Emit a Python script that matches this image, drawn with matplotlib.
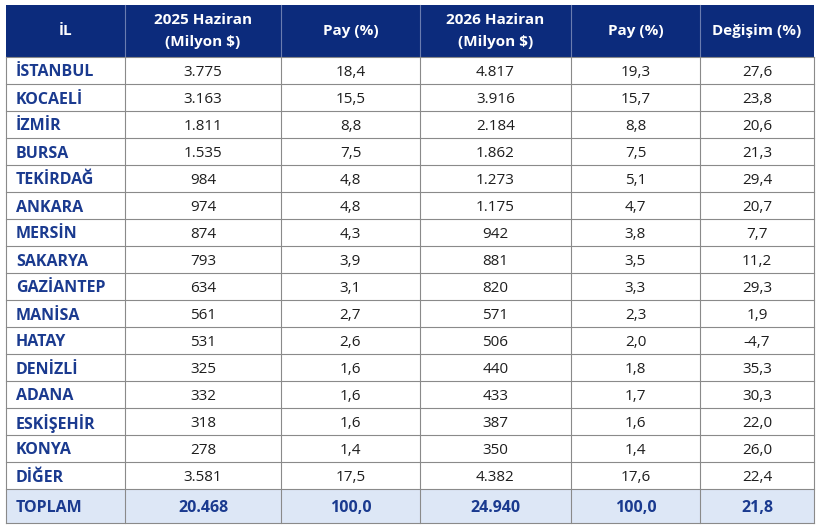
import matplotlib
matplotlib.use("Agg")
from matplotlib import pyplot as plt
from matplotlib.patches import Rectangle

plt.rcParams["font.family"] = ["Open Sans", "DejaVu Sans"]

# table data
header = ["İL", "2025 Haziran\n(Milyon $)", "Pay (%)", "2026 Haziran\n(Milyon $)", "Pay (%)", "Değişim (%)"]
provinces = ["İSTANBUL", "KOCAELİ", "İZMİR", "BURSA", "TEKİRDAĞ", "ANKARA", "MERSİN", "SAKARYA",
             "GAZİANTEP", "MANİSA", "HATAY", "DENİZLİ", "ADANA", "ESKİŞEHİR", "KONYA", "DİĞER"]
export_2025 = [3775, 3163, 1811, 1535, 984, 974, 874, 793, 634, 561, 531, 325, 332, 318, 278, 3581]
share_2025 = [18.4, 15.5, 8.8, 7.5, 4.8, 4.8, 4.3, 3.9, 3.1, 2.7, 2.6, 1.6, 1.6, 1.6, 1.4, 17.5]
export_2026 = [4817, 3916, 2184, 1862, 1273, 1175, 942, 881, 820, 571, 506, 440, 433, 387, 350, 4382]
share_2026 = [19.3, 15.7, 8.8, 7.5, 5.1, 4.7, 3.8, 3.5, 3.3, 2.3, 2.0, 1.8, 1.7, 1.6, 1.4, 17.6]
change = [27.6, 23.8, 20.6, 21.3, 29.4, 20.7, 7.7, 11.2, 29.3, 1.9, -4.7, 35.3, 30.3, 22.0, 26.0, 22.4]
total_label = "TOPLAM"
total_row = [20468, 100.0, 24940, 100.0, 21.8]

HEADER_BG = "#0c2b7c"
NAME_COLOR = "#1a3a8f"
TOTAL_BG = "#dde7f6"
LINE = "#8a8a8a"


def fmt_int(v):
    return f"{v:,}".replace(",", ".")


def fmt_dec(v):
    return f"{v:.1f}".replace(".", ",")


col_x = [6, 125, 281, 420, 571, 700, 814]
top, header_bottom, row_h = 5, 57, 27.0
total_top = header_bottom + row_h * len(provinces)
bottom = 523

fig = plt.figure(figsize=(8.2, 5.32), dpi=100)
ax = fig.add_axes([0, 0, 1, 1])
ax.set_xlim(0, 820)
ax.set_ylim(532, 0)
ax.axis("off")

# header
ax.add_patch(Rectangle((col_x[0], top), col_x[-1] - col_x[0], header_bottom - top,
                       facecolor=HEADER_BG, edgecolor="none"))
hy = (top + header_bottom) / 2
for i, h in enumerate(header):
    cx = (col_x[i] + col_x[i + 1]) / 2
    ax.text(cx, hy, h, color="white", fontsize=11, fontweight="bold",
            ha="center", va="center", linespacing=1.75)

# body rows
for r, name in enumerate(provinces):
    y0 = header_bottom + r * row_h
    cy = y0 + row_h / 2
    ax.text(col_x[0] + 10, cy, name, color=NAME_COLOR, fontsize=11.5, fontweight="bold",
            ha="left", va="center_baseline")
    vals = [fmt_int(export_2025[r]), fmt_dec(share_2025[r]), fmt_int(export_2026[r]),
            fmt_dec(share_2026[r]), fmt_dec(change[r])]
    for c, v in enumerate(vals):
        cx = (col_x[c + 1] + col_x[c + 2]) / 2
        ax.text(cx, cy, v, color="#1e1e1e", fontsize=11, ha="center", va="center_baseline")

# total row
ax.add_patch(Rectangle((col_x[0], total_top), col_x[-1] - col_x[0], bottom - total_top,
                       facecolor=TOTAL_BG, edgecolor="none"))
cy = (total_top + bottom) / 2
ax.text(col_x[0] + 10, cy, total_label, color=NAME_COLOR, fontsize=11.5, fontweight="bold",
        ha="left", va="center_baseline")
total_vals = [fmt_int(total_row[0]), fmt_dec(total_row[1]), fmt_int(total_row[2]),
              fmt_dec(total_row[3]), fmt_dec(total_row[4])]
for c, v in enumerate(total_vals):
    cx = (col_x[c + 1] + col_x[c + 2]) / 2
    ax.text(cx, cy, v, color=NAME_COLOR, fontsize=11.5, fontweight="bold",
            ha="center", va="center_baseline")

# grid lines
for x in col_x:
    ax.plot([x, x], [header_bottom, bottom], color=LINE, lw=0.8)
for x in col_x[1:-1]:
    ax.plot([x, x], [top, header_bottom], color="#6a7cb0", lw=0.8)
for r in range(len(provinces) + 1):
    y = header_bottom + r * row_h
    ax.plot([col_x[0], col_x[-1]], [y, y], color=LINE, lw=0.8)
ax.plot([col_x[0], col_x[-1]], [bottom, bottom], color=LINE, lw=0.8)

fig.savefig("out.png", dpi=100, facecolor="white")
